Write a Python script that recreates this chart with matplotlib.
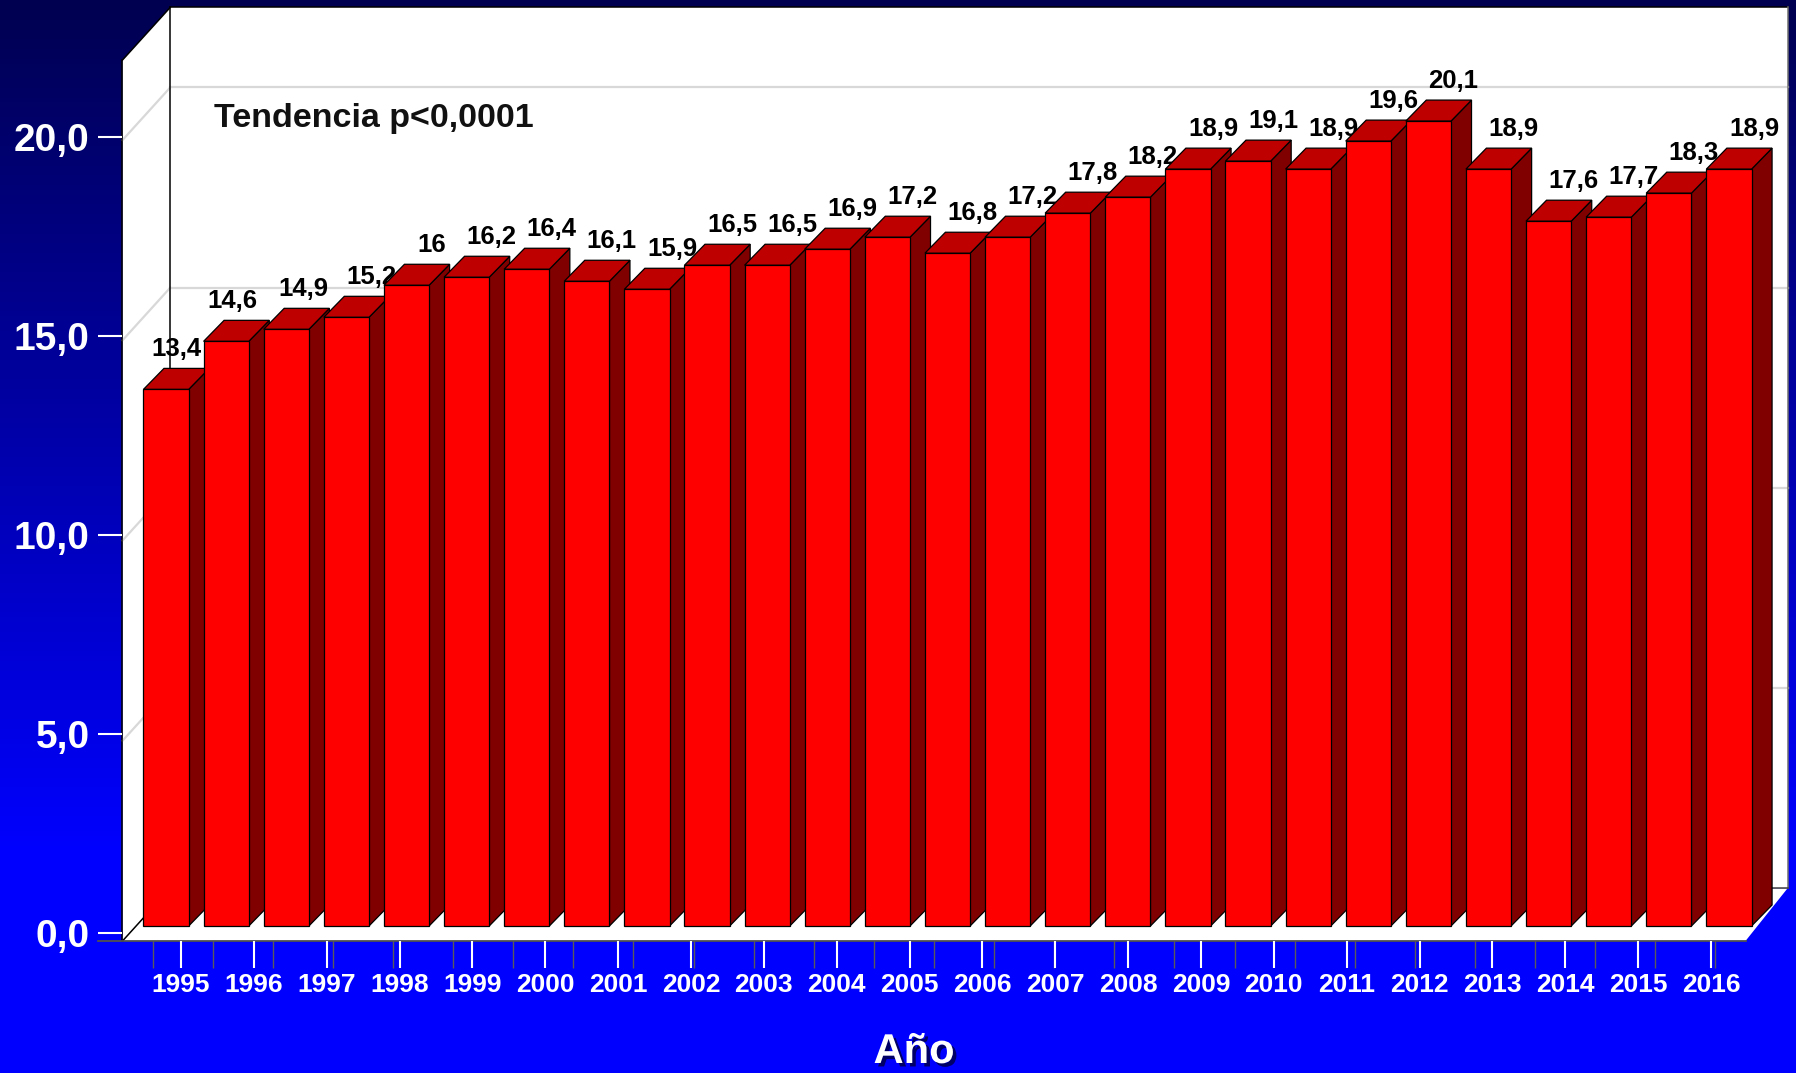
import numpy as np
import matplotlib
matplotlib.use("Agg")
import matplotlib.pyplot as plt
import matplotlib.patheffects as pe
from matplotlib.patches import Polygon

plt.rcParams['font.family'] = ['Liberation Sans', 'DejaVu Sans']

# values per bar (27 bars, as drawn in the source)
values = [13.4, 14.6, 14.9, 15.2, 16.0, 16.2, 16.4, 16.1, 15.9, 16.5, 16.5, 16.9,
          17.2, 16.8, 17.2, 17.8, 18.2, 18.9, 19.1, 18.9, 19.6, 20.1, 18.9, 17.6,
          17.7, 18.3, 18.9]
# category labels (only 22 are printed under the axis)
years = ["1995", "1996", "1997", "1998", "1999", "2000", "2001", "2002", "2003",
         "2004", "2005", "2006", "2007", "2008", "2009", "2010", "2011", "2012",
         "2013", "2014", "2015", "2016"]
y_ticks = [0, 5, 10, 15, 20]
y_tick_labels = ["0,0", "5,0", "10,0", "15,0", "20,0"]

W, H = 1796, 1073
YMAX = 22


def fx(px):
    return px / W


def fy(py):
    return 1 - py / H


fig = plt.figure(figsize=(W / 100, H / 100), dpi=100)

# background gradient, dark navy at top to bright blue
bg = fig.add_axes([0, 0, 1, 1], zorder=-10)
rows = np.arange(H)
blue = np.clip(80 + 175 * rows / 850, 0, 255) / 255
grad = np.zeros((H, 1, 3))
grad[:, 0, 2] = blue
bg.imshow(grad, aspect="auto", extent=[0, 1, 0, 1])
bg.axis("off")

# main axes = front plane of the 3d box
ax = fig.add_axes([fx(122.5), fy(941), (1745.5 - 122.5) / W, 881 / H])
ax.set_xlim(-0.5, len(values) - 0.5)
ax.set_ylim(0, YMAX)
ax.patch.set_visible(False)
for s in ax.spines.values():
    s.set_visible(False)

x0, x1 = -0.5, len(values) - 0.5
DX, DY = 0.795, 1.316      # box depth
DXR = 0.70                 # right side looks a bit shallower
wall_kw = dict(facecolor="white", edgecolor="none", clip_on=False, zorder=0)
ax.add_patch(Polygon([(x0, 0), (x0, YMAX), (x0 + DX, YMAX + DY), (x0 + DX, DY)], **wall_kw))
ax.add_patch(Polygon([(x0 + DX, DY), (x1 + DXR, DY), (x1 + DXR, YMAX + DY), (x0 + DX, YMAX + DY)], **wall_kw))
ax.add_patch(Polygon([(x0, 0), (x1, 0), (x1 + DXR, DY), (x0 + DX, DY)], **wall_kw))

# gridlines on side and back wall
for v in y_ticks[1:]:
    ax.plot([x0, x0 + DX], [v, v + DY], color="#d8d8d8", lw=1.6, zorder=1, clip_on=False)
    ax.plot([x0 + DX, x1 + DXR], [v + DY, v + DY], color="#d8d8d8", lw=1.6, zorder=1, clip_on=False)

# box edges
line_kw = dict(lw=1.1, zorder=1.5, clip_on=False)
ax.plot([x0, x0], [0, YMAX], color="black", **line_kw)
ax.plot([x0, x0 + DX], [YMAX, YMAX + DY], color="black", **line_kw)
ax.plot([x0 + DX, x0 + DX], [DY, YMAX + DY], color="black", **line_kw)
ax.plot([x0 + DX, x1 + DXR], [YMAX + DY, YMAX + DY], color="black", **line_kw)
ax.plot([x1 + DXR, x1 + DXR], [DY, YMAX + DY], color="#707070", **line_kw)
ax.plot([x0, x0 + DX], [0, DY], color="black", **line_kw)
ax.plot([x0 + DX, x1 + DXR], [DY, DY], color="#404040", **line_kw)
ax.plot([x0 - 0.4, x1], [0, 0], color="#505050", lw=1.3, zorder=1.5, clip_on=False)

# bars
BAR_L, BAR_W, BAR_B = -0.151, 0.752, 0.375
BDX, BDY = 0.341, 0.524
nudge = {0: -0.25, 1: -0.32, 2: -0.13}
edge = dict(edgecolor="black", linewidth=0.9, clip_on=False)
for i, v in enumerate(values):
    L = i + BAR_L
    R = L + BAR_W
    B = BAR_B
    T = B + v
    z = 3 + i
    ax.add_patch(Polygon([(R, B), (R + BDX, B + BDY), (R + BDX, T + BDY), (R, T)],
                         facecolor="#800000", zorder=z, **edge))
    ax.add_patch(Polygon([(L, T), (R, T), (R + BDX, T + BDY), (L + BDX, T + BDY)],
                         facecolor="#bf0000", zorder=z, **edge))
    ax.add_patch(Polygon([(L, B), (R, B), (R, T), (L, T)],
                         facecolor="#ff0000", zorder=z, **edge))
    lab = f"{v:g}".replace(".", ",")
    ax.text(i + 0.641 + nudge.get(i, 0), T + BDY + 0.3, lab, ha="center", va="baseline",
            fontsize=18.5, fontweight="bold", color="black", zorder=z + 0.5)

# gray ticks at the category centres
ax.set_xticks(range(len(values)))
ax.set_xticklabels([])
ax.set_yticks([])
ax.tick_params(axis="x", length=19.4, width=1, color="#5a5a5a", direction="out")

# year labels axis (white ticks, 22 labels)
xl = fig.add_axes([fx(144.6), fy(941), (1747.4 - 144.6) / W, 0.01])
xl.set_xlim(-0.5, len(years) - 0.5)
xl.set_xticks(range(len(years)))
xl.set_xticklabels(years, fontweight="bold")
xl.set_yticks([])
xl.tick_params(axis="x", length=19.4, width=1.5, color="white", labelcolor="white",
               labelsize=19, pad=4)
xl.patch.set_visible(False)
for s in xl.spines.values():
    s.set_visible(False)

# value labels axis
yl = fig.add_axes([fx(122.5), fy(933), 0.01, (933 - 137.5) / H])
yl.set_ylim(0, 20)
yl.set_yticks(y_ticks)
yl.set_yticklabels(y_tick_labels, fontweight="bold")
yl.set_xticks([])
yl.tick_params(axis="y", length=17.5, width=1.5, color="white", labelcolor="white",
               labelsize=28, pad=6)
yl.patch.set_visible(False)
for s in yl.spines.values():
    s.set_visible(False)

fig.text(fx(214), fy(118), "Tendencia p<0,0001", ha="left", va="center",
         fontsize=24.5, fontweight="bold", color="#111111")
fig.text(fx(914), fy(1052), "Año", ha="center", va="center", fontsize=30,
         fontweight="bold", color="white",
         path_effects=[pe.withSimplePatchShadow(offset=(2.5, -2.5), shadow_rgbFace="black", alpha=0.6)])

fig.savefig("out.png", dpi=100)
